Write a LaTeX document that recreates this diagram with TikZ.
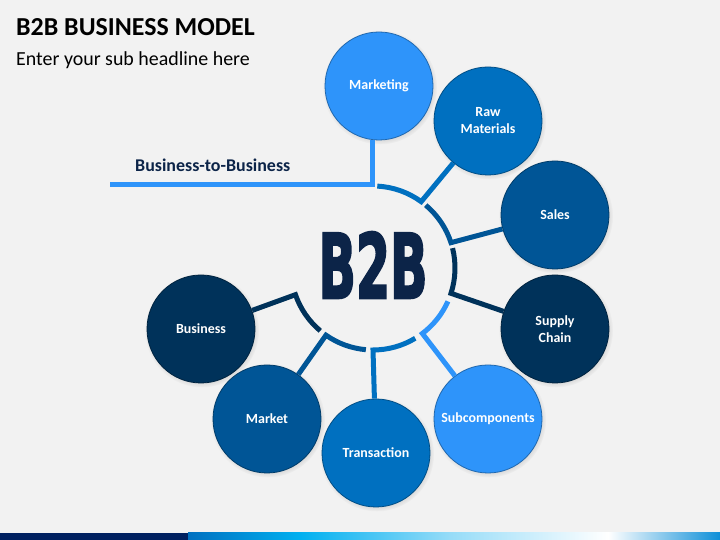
\documentclass[tikz,border=0pt]{standalone}
\usepackage{fontspec}
\setmainfont{Carlito}
\newfontfamily\blockfont[BoldFeatures={FakeBold=3}]{DejaVu Sans}
\usepackage{graphicx}
\definecolor{pagegray}{RGB}{242, 242, 242}
\definecolor{mktblue}{RGB}{46, 148, 250}
\definecolor{rawblue}{RGB}{0, 112, 192}
\definecolor{salesblue}{RGB}{0, 85, 150}
\definecolor{navyblue}{RGB}{0, 50, 90}
\definecolor{inknavy}{RGB}{12, 36, 72}
\definecolor{barnavy}{RGB}{0, 32, 96}
\definecolor{barcyan}{RGB}{0, 176, 240}
\definecolor{barpale}{RGB}{150, 220, 248}
\definecolor{barend}{RGB}{14, 143, 216}
\usetikzlibrary{calc, shadows}

\begin{document}
\begin{tikzpicture}[x=1bp, y=1bp,
  bubble/.style={circle, minimum size=108bp, inner sep=0pt, align=center, text=white,
    fill=#1, draw=#1!70!black, line width=0.8bp,
    font=\bfseries\fontsize{14}{17}\selectfont,
    circular drop shadow={shadow scale=1.06, shadow xshift=0.8bp, shadow yshift=-1.2bp, opacity=0.35}},
  ring/.style={line width=5bp}]
  \fill[pagegray] (0,0) rectangle (720,540);
  \useasboundingbox (0,0) rectangle (720,540);

  % Heading
  \node[font=\bfseries\fontsize{26}{31}\selectfont, anchor=base west, inner sep=0pt] (title) at (16,504) {B2B BUSINESS MODEL};
  \node[font=\fontsize{20}{24}\selectfont, anchor=base west, inner sep=0pt] (subtitle) at (16,474) {Enter your sub headline here};

  % Hub
  \coordinate (hub) at (373,272);
  \node[inner sep=0pt, text=inknavy] (b2b) at (373,275) {\resizebox{109bp}{66bp}{\blockfont\bfseries B2B}};

  % Bubbles
  \node[bubble=mktblue] (mkt) at (379,454) {Marketing};
  \node[bubble=rawblue] (raw) at (488,419) {Raw\\Materials};
  \node[bubble=salesblue] (sales) at (555,325) {Sales};
  \node[bubble=navyblue] (supply) at (555,211) {Supply\\Chain};
  \node[bubble=mktblue] (subc) at (488,121) {Subcomponents};
  \node[bubble=rawblue] (trans) at (376,87) {Transaction};
  \node[bubble=salesblue] (market) at (267,121) {Market};
  \node[bubble=navyblue] (biz) at (201,211) {Business};

  % Ring segments with their spokes
  \foreach \from/\to/\col/\target in {87/54/rawblue/raw, 50/18/salesblue/sales, 14/-18/navyblue/supply,
      -24/-53/mktblue/subc, -59/-90/rawblue/trans, -95/-125/salesblue/market, -130/-161/navyblue/biz}
    \draw[ring, \col] ($(hub)+(\from:82)$) arc[start angle=\from, end angle=\to, radius=82] -- (\target);

  % Business-to-Business line
  \coordinate (lineend) at (110,355);
  \coordinate (elbow) at (372,355);
  \draw[ring, mktblue] (lineend) -- (elbow) -- (elbow |- mkt.south);
  \node[font=\bfseries\fontsize{18}{21}\selectfont, text=inknavy, anchor=base west, inner sep=0pt] (label) at (135,368) {Business-to-Business};

  % Bottom bar
  \fill[barnavy] (0,0) rectangle (188,7);
  \foreach \xa/\xb/\ca/\cb in {188/300/rawblue/barcyan, 300/450/barcyan/barpale, 450/608/barpale/white, 608/720/white/barend}
    \shade[left color=\ca, right color=\cb] (\xa,0) rectangle (\xb,7);
\end{tikzpicture}
\end{document}
